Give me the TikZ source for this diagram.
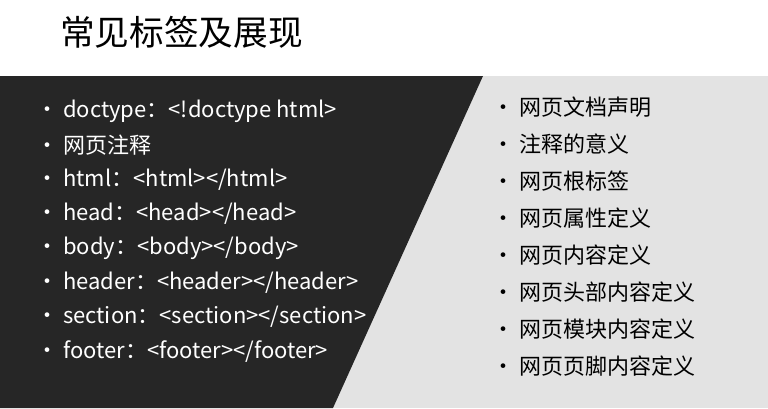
\documentclass[tikz,border=0pt]{standalone}
\usepackage{fontspec}
\setmainfont{Noto Sans CJK SC}
\begin{document}
\begin{tikzpicture}[x=0.75pt,y=-0.75pt,
  lt/.style={anchor=west,text=white,font=\fontsize{16.5}{18}\selectfont,inner sep=0pt},
  rt/.style={anchor=west,text=black,font=\fontsize{16.5}{18}\selectfont,inner sep=0pt}]
\useasboundingbox (0,0) rectangle (768,408);
\fill[white] (0,0) rectangle (768,408);
\fill[gray!22] (0,76) rectangle (768,408);
\fill[black!85] (0,76) -- (483,76) -- (333,408) -- (0,408) -- cycle;
\node[anchor=west,inner sep=0pt,font=\fontsize{26}{28}\selectfont] (title) at (60,32) {常见标签及展现};
\foreach \t [count=\i] in {doctype：<!doctype html>,网页注释,html：<html></html>,head：<head></head>,body：<body></body>,header：<header></header>,section：<section></section>,footer：<footer></footer>}
  \node[lt] (l\i) at (36,{111+34.3*(\i-1)}) {• \t};
\foreach \t [count=\i] in {网页文档声明,注释的意义,网页根标签,网页属性定义,网页内容定义,网页头部内容定义,网页模块内容定义,网页页脚内容定义}
  \node[rt] (r\i) at (492,{107+37*(\i-1)}) {• \t};
\end{tikzpicture}
\end{document}
